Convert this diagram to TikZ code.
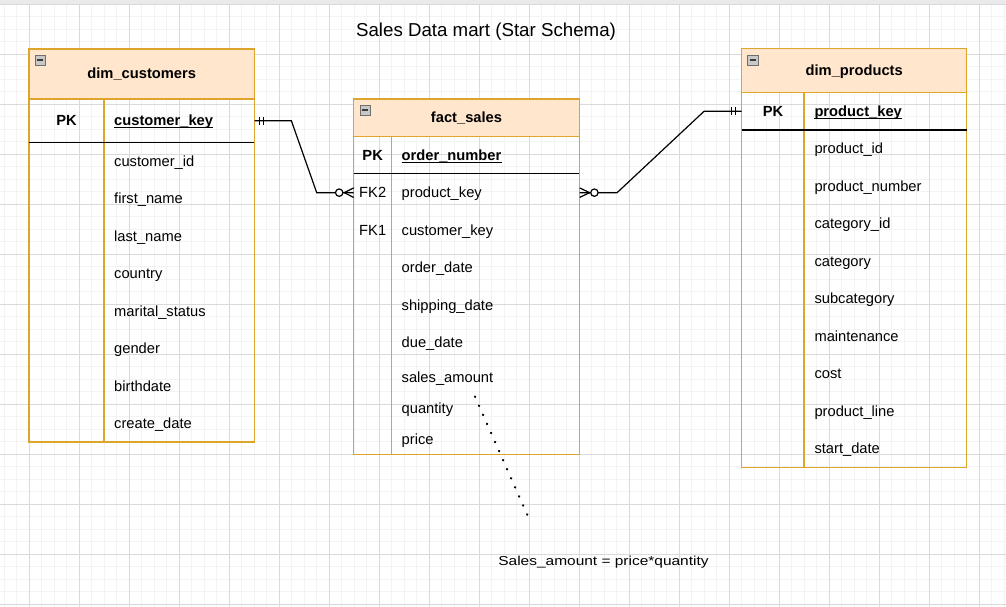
\documentclass[tikz,border=0pt]{standalone}
\usepackage{fontspec}
\setmainfont{Liberation Sans}
\usetikzlibrary{calc}
\definecolor{gold}{RGB}{222,165,45}
\definecolor{hdr}{RGB}{255,230,204}
\definecolor{gmaj}{RGB}{218,218,218}
\definecolor{gmin}{RGB}{243,243,243}
\definecolor{topbar}{RGB}{234,234,236}
\definecolor{iconfill}{RGB}{200,200,200}
\definecolor{icondraw}{RGB}{110,110,110}
\definecolor{icondark}{RGB}{60,60,60}
\newcommand{\ERicon}[2]{%
  \draw[fill=iconfill, draw=icondraw, line width=0.9pt] (#1,#2) rectangle ++(10.7,10.7);
  \draw[icondark, line width=1.7pt] (#1+2.3,#2+5.35) -- (#1+8.4,#2+5.35);}
\begin{document}
\begin{tikzpicture}[x=1pt,y=-1pt,
  tbl/.style={draw=gold, line width=1.3pt},
  pkline/.style={draw=black, line width=1.3pt},
  field/.style={anchor=base west, inner sep=0pt, font=\fontsize{14.7}{16}\selectfont},
  keyfield/.style={anchor=base west, inner sep=0pt, font=\fontsize{14.7}{16}\selectfont\bfseries},
  tagtext/.style={anchor=base, inner sep=0pt, font=\fontsize{14.7}{16}\selectfont},
  pktext/.style={anchor=base, inner sep=0pt, font=\fontsize{14.7}{16}\selectfont\bfseries},
  title/.style={anchor=base, inner sep=0pt, font=\fontsize{14.7}{16}\selectfont\bfseries},
  rowbox/.style={draw=none, inner sep=0pt, anchor=north west},
  conn/.style={draw=black, line width=1.2pt},
  ermark/.style={draw=black, line width=1.2pt},
  dotline/.style={draw=black, line width=2.6pt, line cap=round, dash pattern=on 0.01pt off 9.9pt}
]
\useasboundingbox (0,0) rectangle (1006,607);
\fill[white] (0,0) rectangle (1006,607);
% grid
\foreach \x in {4.3,16.8,...,1006} \draw[gmin, line width=1pt] (\x,0) -- (\x,607);
\foreach \y in {4.3,16.8,...,607} \draw[gmin, line width=1pt] (0,\y) -- (1006,\y);
\foreach \x in {29.3,79.3,...,1006} \draw[gmaj, line width=1pt] (\x,0) -- (\x,607);
\foreach \y in {4.3,54.3,...,607} \draw[gmaj, line width=1pt] (0,\y) -- (1006,\y);
\fill[topbar] (0,0) rectangle (1006,3.6);

% title
\node[anchor=base, inner sep=0pt, font=\fontsize{18.7}{20}\selectfont] (maintitle) at (486,36.6) {Sales Data mart (Star Schema)};

% ---------------- dim_customers ----------------
\fill[hdr] (29,49) rectangle (254.3,99);
\draw[tbl] (29,99) -- (254.3,99);
\draw[tbl] (104,99) -- (104,442);
\draw[tbl] (29,49) rectangle (254.3,442);
\draw[pkline] (29,142.3) -- (254.3,142.3);
\ERicon{35}{55}
\node[title] (custtitle) at (141.7,78.8) {dim\_customers};
\node[rowbox, minimum width=225.3pt, minimum height=43.3pt] (custpk) at (29,99) {};
\node[pktext] (custpktag) at (66.5,125.7) {PK};
\node[keyfield] (custkey) at (114,125.7) {customer\_key};
\draw[line width=1.2pt] ([yshift=-2.2pt]custkey.base west) -- ([yshift=-2.2pt]custkey.base east);
\node[field] (c1) at (114,166)   {customer\_id};
\node[field] (c2) at (114,203.5) {first\_name};
\node[field] (c3) at (114,241)   {last\_name};
\node[field] (c4) at (114,278.5) {country};
\node[field] (c5) at (114,316)   {marital\_status};
\node[field] (c6) at (114,353.5) {gender};
\node[field] (c7) at (114,391)   {birthdate};
\node[field] (c8) at (114,428.5) {create\_date};

% ---------------- fact_sales ----------------
\fill[hdr] (353.7,99) rectangle (579.3,136.7);
\draw[tbl] (353.7,136.7) -- (579.3,136.7);
\draw[tbl] (391.7,136.7) -- (391.7,454.7);
\draw[tbl] (353.7,99) rectangle (579.3,454.7);
\draw[pkline] (353.7,173.7) -- (579.3,173.7);
\ERicon{360}{105}
\node[title] (facttitle) at (466.5,122.8) {fact\_sales};
\node[pktext] (factpktag) at (372.7,160) {PK};
\node[keyfield] (factkey) at (401.5,160) {order\_number};
\draw[line width=1.2pt] ([yshift=-2.2pt]factkey.base west) -- ([yshift=-2.2pt]factkey.base east);
\node[rowbox, minimum width=225.6pt, minimum height=37.5pt] (factfk2) at (353.7,173.7) {};
\node[tagtext] (fk2tag) at (372.7,197.6) {FK2};
\node[tagtext] (fk1tag) at (372.7,235.1) {FK1};
\node[field] (f1) at (401.5,197.6) {product\_key};
\node[field] (f2) at (401.5,235.1) {customer\_key};
\node[field] (f3) at (401.5,272.6) {order\_date};
\node[field] (f4) at (401.5,310.1) {shipping\_date};
\node[field] (f5) at (401.5,347.6) {due\_date};
\node[field] (f6) at (401.5,382.8) {sales\_amount};
\node[field] (f7) at (401.5,413.6) {quantity};
\node[field] (f8) at (401.5,444.6) {price};

% ---------------- dim_products ----------------
\fill[hdr] (741.7,48.3) rectangle (966.7,92.3);
\draw[tbl] (741.7,92.3) -- (966.7,92.3);
\draw[tbl] (804,92.3) -- (804,467.5);
\draw[tbl] (741.7,48.3) rectangle (966.7,467.5);
\draw[pkline] (741.7,130) -- (966.7,130);
\ERicon{747.3}{55}
\node[title] (prodtitle) at (854.2,75.4) {dim\_products};
\node[rowbox, minimum width=225pt, minimum height=37.7pt] (prodpk) at (741.7,92.3) {};
\node[pktext] (prodpktag) at (773,116.2) {PK};
\node[keyfield] (prodkey) at (814.3,116.2) {product\_key};
\draw[line width=1.2pt] ([yshift=-2.2pt]prodkey.base west) -- ([yshift=-2.2pt]prodkey.base east);
\node[field] (p1) at (814.3,153.8) {product\_id};
\node[field] (p2) at (814.3,191.3) {product\_number};
\node[field] (p3) at (814.3,228.8) {category\_id};
\node[field] (p4) at (814.3,266.3) {category};
\node[field] (p5) at (814.3,303.8) {subcategory};
\node[field] (p6) at (814.3,341.3) {maintenance};
\node[field] (p7) at (814.3,378.8) {cost};
\node[field] (p8) at (814.3,416.3) {product\_line};
\node[field] (p9) at (814.3,453.8) {start\_date};

% ---------------- connectors ----------------
% customers (one, mandatory) -> fact_sales (zero or many)
\draw[conn] (custpk.east) -- ++(36.7,0) -- ([xshift=-37pt]factfk2.west) -- (factfk2.west);
\draw[ermark] ([xshift=4.7pt]custpk.east) ++(0,-4) -- ++(0,8);
\draw[ermark] ([xshift=8.5pt]custpk.east) ++(0,-4) -- ++(0,8);
\draw[ermark] ([yshift=4.8pt]factfk2.west) -- ([xshift=-9.5pt]factfk2.west) -- ([yshift=-4.8pt]factfk2.west);
\draw[ermark, fill=white] ([xshift=-14.5pt]factfk2.west) circle (3.7pt);

% fact_sales (zero or many) -> products (one, mandatory)
\draw[conn] (factfk2.east) -- ++(37.4,0) -- ([xshift=-37.7pt]prodpk.west) -- (prodpk.west);
\draw[ermark] ([yshift=4.7pt]factfk2.east) -- ([xshift=10pt]factfk2.east) -- ([yshift=-4.7pt]factfk2.east);
\draw[ermark, fill=white] ([xshift=14.7pt]factfk2.east) circle (3.7pt);
\draw[ermark] ([xshift=-10pt]prodpk.west) ++(0,-4) -- ++(0,8);
\draw[ermark] ([xshift=-6.3pt]prodpk.west) ++(0,-4) -- ++(0,8);

% annotation
\coordinate (dotA) at (475,396.7);
\coordinate (dotB) at (527.7,515.7);
\draw[dotline] (dotA) -- (dotB);
\node[anchor=base, inner sep=0pt, font=\fontsize{13}{15}\selectfont] (note) at (603.5,565.3) {\scalebox{1.19}[1]{Sales\_amount = price*quantity}};
\end{tikzpicture}
\end{document}
